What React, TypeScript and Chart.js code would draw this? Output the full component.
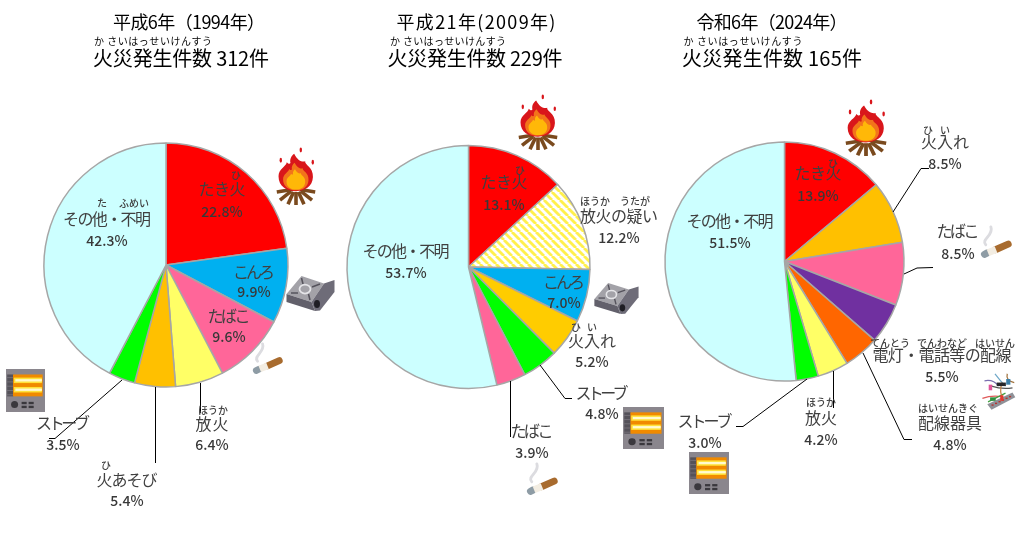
import React, { useEffect, useRef } from "react";
import { Chart, registerables } from "chart.js";

Chart.register(...registerables);

const W = 1017;
const H = 542;
const FONT = '"Noto Sans CJK JP", "Noto Sans", sans-serif';
const INK = "#404040";

// ---------- data ----------
const categories1994 = ["たき火", "こんろ", "たばこ", "放火", "火あそび", "ストーブ", "その他・不明"];
const values1994 = [22.8, 9.9, 9.6, 6.4, 5.4, 3.5, 42.3];
const categories2009 = ["たき火", "放火の疑い", "こんろ", "火入れ", "ストーブ", "たばこ", "その他・不明"];
const values2009 = [13.1, 12.2, 7.0, 5.2, 4.8, 3.9, 53.7];
const categories2024 = ["たき火", "火入れ", "たばこ", "電灯・電話等の配線", "配線器具", "放火", "ストーブ", "その他・不明"];
const values2024 = [13.9, 8.5, 8.5, 5.5, 4.8, 4.2, 3.0, 51.5];

const titles = ["平成6年（1994年）", "平成21年(2009年)", "令和6年（2024年）"];
const subtitles = ["火災発生件数 312件", "火災発生件数 229件", "火災発生件数 165件"];
const subtitleRuby = "か さいはっせいけんすう";

// ---------- styles ----------
const RED = "#FF0000";
const BLUE = "#00B0F0";
const PINK = "#FF6699";
const YELLOW = "#FFFF66";
const GOLD = "#FFC000";
const GOLD2 = "#FFCC00";
const GREEN = "#00FF00";
const CYAN = "#CCFFFF";
const PURPLE = "#7030A0";
const ORANGE = "#FF6600";
const HATCH = "hatch";

const colors1994 = [RED, BLUE, PINK, YELLOW, GOLD, GREEN, CYAN];
const colors2009 = [RED, HATCH, BLUE, GOLD2, GREEN, PINK, CYAN];
const colors2024 = [RED, GOLD, PINK, PURPLE, ORANGE, YELLOW, GREEN, CYAN];

type Lbl = { x: number; y: number; py: number; w?: number; ruby?: [string, number, number][] };
type Seg = number[];
type Icon = [string, number, number, number, number];

const layout1994: Lbl[] = [
  { x: 222, y: 189, py: 212, w: 47, ruby: [["ひ", 236, 175]] },
  { x: 254, y: 272, py: 292, w: 42 },
  { x: 229, y: 316, py: 337, w: 43 },
  { x: 212, y: 424, py: 445, w: 33, ruby: [["ほうか", 213, 410]] },
  { x: 127, y: 480, py: 501, w: 61, ruby: [["ひ", 106, 465]] },
  { x: 63, y: 423, py: 445, w: 54 },
  { x: 107, y: 219, py: 241, w: 88, ruby: [["た", 102, 203], ["ふめい", 134, 203]] },
];
const layout2009: Lbl[] = [
  { x: 504, y: 182, py: 205, w: 47, ruby: [["ひ", 520, 170]] },
  { x: 619, y: 216, py: 238, w: 78, ruby: [["ほうか", 595, 201], ["うたが", 635, 201]] },
  { x: 564, y: 282, py: 303, w: 42 },
  { x: 592, y: 341, py: 362, w: 48, ruby: [["ひ", 576, 327], ["い", 592, 327]] },
  { x: 602, y: 393, py: 414, w: 53 },
  { x: 532, y: 431, py: 453, w: 43 },
  { x: 406, y: 251, py: 273, w: 87 },
];
const layout2024: Lbl[] = [
  { x: 818, y: 173, py: 196, w: 47, ruby: [["ひ", 833, 163]] },
  { x: 945, y: 142, py: 164, w: 48, ruby: [["ひ", 928, 130], ["い", 945, 130]] },
  { x: 958, y: 231, py: 254, w: 43 },
  { x: 942, y: 355, py: 377, w: 139, ruby: [["てんとう", 890, 343], ["でんわなど", 942, 343], ["はいせん", 995, 343]] },
  { x: 950, y: 423, py: 445, w: 64, ruby: [["はいせんきぐ", 948, 408]] },
  { x: 821, y: 418, py: 440, w: 32, ruby: [["ほうか", 821, 402]] },
  { x: 705, y: 421, py: 443, w: 55 },
  { x: 730, y: 221, py: 243, w: 87 },
];

const pies = [
  {
    cx: 166, cy: 265, r: 122, categories: categories1994, values: values1994, colors: colors1994, layout: layout1994,
    title: [189, 22, 152], sub: [181, 58, 176], ruby: [153, 41, 118],
    leaders: [[122, 380, 55, 438.5, 49, 438.5], [155.5, 387, 155.5, 463], [200.5, 383, 200.5, 413]] as Seg[],
    icons: [["fire", 276, 148, 40, 57], ["stove", 285, 275, 50, 37], ["cig", 252, 342, 31, 34], ["heater", 6, 369, 39, 43]] as Icon[],
  },
  {
    cx: 468.5, cy: 267, r: 121.5, categories: categories2009, values: values2009, colors: colors2009, layout: layout2009,
    title: [476, 22, 159], sub: [475, 58, 175], ruby: [448, 41, 116],
    leaders: [[540, 365, 565, 398.5, 572, 398.5], [510.5, 381, 510.5, 437]] as Seg[],
    icons: [["fire", 518, 95, 40, 55], ["stove", 593, 282, 46, 33], ["cig", 526, 462, 32, 35], ["heater", 623, 407, 41, 42]] as Icon[],
  },
  {
    cx: 784.5, cy: 261.5, r: 119.5, categories: categories2024, values: values2024, colors: colors2024, layout: layout2024,
    title: [772, 22, 151], sub: [772, 58, 180], ruby: [743, 41, 119],
    leaders: [[893, 212, 921, 168.5, 929, 168.5], [904, 274, 917, 268, 933, 267.5], [863, 353, 904, 439.5, 912, 439.5], [833.5, 371, 833.5, 408], [807, 379, 743, 426.5, 736, 426.5]] as Seg[],
    icons: [["fire", 845, 100, 42, 56], ["cig", 980, 225, 32, 35], ["wires", 981, 372, 35, 38], ["heater", 689, 452, 40, 42]] as Icon[],
  },
];

// ---------- helpers ----------
function hatchPattern(ctx: CanvasRenderingContext2D) {
  const c = document.createElement("canvas");
  c.width = 8;
  c.height = 8;
  const p = c.getContext("2d")!;
  p.fillStyle = "#FFFFFF";
  p.fillRect(0, 0, 8, 8);
  p.strokeStyle = "#FFF04D";
  p.lineWidth = 2.8;
  for (let i = -8; i <= 16; i += 8) {
    p.beginPath();
    p.moveTo(i, 0);
    p.lineTo(i + 8, 8);
    p.stroke();
  }
  return ctx.createPattern(c, "repeat")!;
}

function text(ctx: CanvasRenderingContext2D, s: string, x: number, y: number, font: string, color: string, width?: number) {
  ctx.font = font;
  ctx.fillStyle = color;
  ctx.textAlign = "left";
  ctx.textBaseline = "middle";
  (ctx as any).letterSpacing = "0px";
  let w = ctx.measureText(s).width;
  if (width) {
    const sp = (width - w) / Math.max(1, s.length - 1);
    (ctx as any).letterSpacing = sp.toFixed(2) + "px";
    w = width;
  }
  ctx.fillText(s, x - w / 2, y);
  (ctx as any).letterSpacing = "0px";
}

function poly(ctx: CanvasRenderingContext2D, pts: number[], fill: string) {
  ctx.fillStyle = fill;
  ctx.beginPath();
  ctx.moveTo(pts[0], pts[1]);
  for (let i = 2; i < pts.length; i += 2) ctx.lineTo(pts[i], pts[i + 1]);
  ctx.closePath();
  ctx.fill();
}

function flame(ctx: CanvasRenderingContext2D, s: number, fill: string) {
  ctx.fillStyle = fill;
  ctx.beginPath();
  ctx.moveTo(-0.1 * s, -1 * s);
  ctx.bezierCurveTo(0.1 * s, -0.6 * s, 0.35 * s, -0.55 * s, 0.5 * s, -0.6 * s);
  ctx.bezierCurveTo(0.45 * s, -0.4 * s, 0.95 * s, -0.3 * s, 0.92 * s, 0.25 * s);
  ctx.bezierCurveTo(0.9 * s, 0.75 * s, 0.5 * s, 1 * s, 0, 1 * s);
  ctx.bezierCurveTo(-0.5 * s, 1 * s, -0.95 * s, 0.75 * s, -0.95 * s, 0.2 * s);
  ctx.bezierCurveTo(-0.95 * s, -0.2 * s, -0.55 * s, -0.3 * s, -0.5 * s, -0.55 * s);
  ctx.bezierCurveTo(-0.4 * s, -0.45 * s, -0.35 * s, -0.45 * s, -0.3 * s, -0.5 * s);
  ctx.bezierCurveTo(-0.35 * s, -0.7 * s, -0.25 * s, -0.9 * s, -0.1 * s, -1 * s);
  ctx.closePath();
  ctx.fill();
}

function drawFire(ctx: CanvasRenderingContext2D) {
  // unit box 100 x 140
  ctx.strokeStyle = "#7A4A1E";
  ctx.lineWidth = 9;
  ctx.lineCap = "butt";
  for (const [a, b, c, d] of [[2, 108, 40, 102], [98, 108, 60, 102], [10, 128, 38, 106], [90, 128, 62, 106], [30, 138, 44, 108], [70, 138, 56, 108], [50, 140, 50, 108]]) {
    ctx.beginPath();
    ctx.moveTo(a, b);
    ctx.lineTo(c, d);
    ctx.stroke();
  }
  ctx.save();
  ctx.translate(50, 60);
  flame(ctx, 46, "#D9161B");
  ctx.translate(0, 10);
  flame(ctx, 34, "#F2741B");
  ctx.translate(0, 7);
  flame(ctx, 25, "#FFB808");
  ctx.restore();
  ctx.fillStyle = "#D9161B";
  for (const [x, y] of [[62, 5], [12, 30], [92, 35]]) {
    ctx.beginPath();
    ctx.ellipse(x, y, 3, 6, 0, 0, Math.PI * 2);
    ctx.fill();
  }
}

function drawHeater(ctx: CanvasRenderingContext2D) {
  // unit box 100 x 110
  ctx.fillStyle = "#8A868D";
  ctx.fillRect(0, 0, 100, 110);
  ctx.fillStyle = "#55525A";
  ctx.fillRect(3, 14, 16, 56);
  ctx.fillStyle = "#F08A00";
  ctx.fillRect(18, 14, 76, 56);
  for (const y of [22, 46]) {
    ctx.fillStyle = "#FFE23A";
    ctx.fillRect(20, y, 72, 14);
    ctx.fillStyle = "#FFFAD0";
    ctx.fillRect(24, y + 4, 68, 6);
  }
  ctx.strokeStyle = "#8A868D";
  ctx.lineWidth = 1.5;
  for (const y of [22, 33, 44, 55, 66]) {
    ctx.beginPath();
    ctx.moveTo(3, y);
    ctx.lineTo(18, y);
    ctx.stroke();
  }
  ctx.fillStyle = "#3A383D";
  ctx.beginPath();
  ctx.arc(22, 91, 9, 0, Math.PI * 2);
  ctx.fill();
  ctx.fillRect(40, 84, 13, 6);
  ctx.fillRect(58, 84, 13, 6);
  ctx.fillRect(40, 94, 13, 6);
  ctx.fillRect(58, 94, 13, 6);
}

function drawStove(ctx: CanvasRenderingContext2D) {
  // unit box 100 x 74
  poly(ctx, [3, 38, 33, 2, 78, 17, 53, 54], "#A3A2A8");
  poly(ctx, [3, 38, 53, 54, 60, 72, 3, 54], "#62606B");
  poly(ctx, [53, 54, 78, 17, 99, 10, 99, 34, 70, 71, 60, 72], "#6E6C78");
  ctx.strokeStyle = "#55535C";
  ctx.lineWidth = 3;
  for (const [a, b, c, d] of [[12, 36, 26, 36], [33, 6, 36, 18], [70, 18, 54, 24], [50, 50, 47, 38]]) {
    ctx.beginPath();
    ctx.moveTo(a, b);
    ctx.lineTo(c, d);
    ctx.stroke();
  }
  ctx.strokeStyle = "#E5E5E8";
  ctx.lineWidth = 3.5;
  ctx.beginPath();
  ctx.ellipse(40, 28, 11, 9, 0, 0, Math.PI * 2);
  ctx.stroke();
  ctx.fillStyle = "#1F1E24";
  ctx.beginPath();
  ctx.ellipse(64, 58, 6, 8, 0, 0, Math.PI * 2);
  ctx.fill();
}

function drawCig(ctx: CanvasRenderingContext2D) {
  // unit box 100 x 110
  ctx.strokeStyle = "#DCDCE0";
  ctx.lineWidth = 9;
  ctx.lineCap = "round";
  ctx.beginPath();
  ctx.moveTo(18, 62);
  ctx.bezierCurveTo(2, 46, 44, 32, 34, 6);
  ctx.stroke();
  ctx.lineWidth = 22;
  const seg = (a: number, b: number, c: number, d: number, col: string) => {
    ctx.strokeStyle = col;
    ctx.beginPath();
    ctx.moveTo(a, b);
    ctx.lineTo(c, d);
    ctx.stroke();
  };
  ctx.lineCap = "round";
  seg(50, 77, 88, 60, "#A86B2E");
  seg(14, 92, 22, 88, "#8E9CA5");
  ctx.lineCap = "butt";
  seg(25, 87, 50, 77, "#F3EDE2");
}

function drawWires(ctx: CanvasRenderingContext2D) {
  // unit box 100 x 108
  ctx.lineWidth = 3.5;
  const lines: [string, number[]][] = [
    ["#7A6FB0", [10, 25, 35, 20, 50, 40]],
    ["#E05A5A", [4, 75, 30, 65, 60, 70]],
    ["#6FA8C8", [40, 5, 55, 25, 70, 40]],
    ["#A0703A", [75, 5, 70, 25, 95, 30]],
    ["#555", [30, 40, 60, 50, 90, 45]],
    ["#3FA03F", [20, 85, 50, 70, 70, 60]],
    ["#C08040", [60, 30, 50, 60, 65, 80]],
  ];
  for (const [c, p] of lines) {
    ctx.strokeStyle = c;
    ctx.beginPath();
    ctx.moveTo(p[0], p[1]);
    ctx.quadraticCurveTo(p[2], p[3], p[4], p[5]);
    ctx.stroke();
  }
  poly(ctx, [18, 92, 90, 58, 98, 72, 30, 107], "#8F9198");
  ctx.fillStyle = "#B5352F";
  for (let i = 0; i < 6; i++) ctx.fillRect(30 + i * 10, 92 - i * 4.8, 6, 4);
  ctx.fillStyle = "#E0559A";
  ctx.fillRect(22, 36, 10, 16);
  ctx.fillStyle = "#26262A";
  ctx.fillRect(45, 30, 26, 10);
  ctx.fillStyle = "#2F8F3F";
  ctx.fillRect(26, 72, 16, 10);
  ctx.fillStyle = "#3B7FA8";
  ctx.fillRect(72, 20, 12, 16);
  ctx.fillStyle = "#E5392F";
  ctx.fillRect(55, 66, 9, 16);
}

const iconDraw: Record<string, [(c: CanvasRenderingContext2D) => void, number, number]> = {
  fire: [drawFire, 100, 140],
  heater: [drawHeater, 100, 110],
  stove: [drawStove, 100, 74],
  cig: [drawCig, 100, 110],
  wires: [drawWires, 100, 108],
};

function makeOverlay(p: (typeof pies)[number]) {
  return {
    id: "overlay",
    afterDatasetsDraw(chart: any) {
      const ctx: CanvasRenderingContext2D = chart.ctx;
      ctx.save();
      ctx.strokeStyle = "#000000";
      ctx.lineWidth = 1;
      for (const seg of p.leaders) {
        ctx.beginPath();
        ctx.moveTo(seg[0], seg[1]);
        for (let i = 2; i < seg.length; i += 2) ctx.lineTo(seg[i], seg[i + 1]);
        ctx.stroke();
      }
      for (const [name, x, y, w, h] of p.icons) {
        const [fn, uw, uh] = iconDraw[name];
        ctx.save();
        ctx.translate(x, y);
        ctx.scale(w / uw, h / uh);
        fn(ctx);
        ctx.restore();
      }
      p.layout.forEach((l, i) => {
        text(ctx, p.categories[i], l.x, l.y, `16px ${FONT}`, INK, l.w);
        text(ctx, p.values[i].toFixed(1) + "%", l.x, l.py, `500 14px ${FONT}`, "#383838");
        for (const [s, x, y] of l.ruby || []) text(ctx, s, x, y, `500 10px ${FONT}`, INK);
      });
      const i = pies.indexOf(p);
      text(ctx, titles[i], p.title[0], p.title[1], `18px ${FONT}`, "#000000", p.title[2]);
      text(ctx, subtitles[i], p.sub[0], p.sub[1], `20px ${FONT}`, "#000000", p.sub[2]);
      text(ctx, subtitleRuby, p.ruby[0], p.ruby[1], `10px ${FONT}`, "#000000", p.ruby[2]);
      ctx.restore();
    },
  };
}

function Pie({ p }: { p: (typeof pies)[number] }) {
  const ref = useRef<HTMLCanvasElement>(null);
  useEffect(() => {
    const canvas = ref.current!;
    const ctx = canvas.getContext("2d")!;
    const fills = p.colors.map((c) => (c === HATCH ? hatchPattern(ctx) : c));
    const chart = new Chart(canvas, {
      type: "pie",
      data: {
        labels: p.categories,
        datasets: [{ data: p.values, backgroundColor: fills as any, borderColor: "#A6A6A6", borderWidth: 1.5 }],
      },
      options: {
        responsive: false,
        animation: false,
        radius: p.r,
        layout: { padding: { left: p.cx - p.r, right: W - p.cx - p.r, top: p.cy - p.r, bottom: H - p.cy - p.r } },
        plugins: { legend: { display: false }, tooltip: { enabled: false } },
      } as any,
      plugins: [makeOverlay(p)],
    });
    return () => chart.destroy();
  }, [p]);
  return <canvas ref={ref} width={W} height={H} style={{ position: "absolute", left: 0, top: 0, width: W, height: H, display: "block" }} />;
}

export default function App() {
  return (
    <div style={{ position: "absolute", left: 0, top: 0, width: W, height: H, background: "#FFFFFF", overflow: "hidden" }}>
      {pies.map((p, i) => (
        <Pie key={i} p={p} />
      ))}
    </div>
  );
}
